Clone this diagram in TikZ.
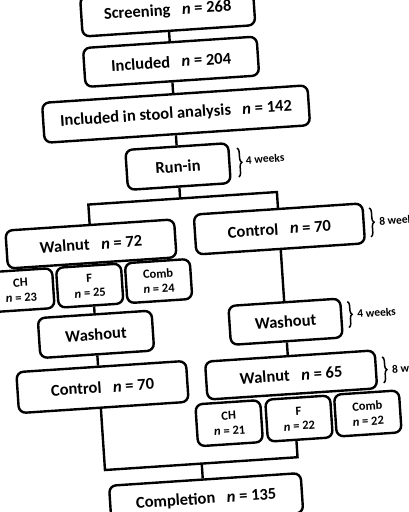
\documentclass[tikz,border=0pt]{standalone}
\usepackage{fontspec}
\setmainfont{Carlito}
\usetikzlibrary{decorations.pathreplacing}
\begin{document}
\begin{tikzpicture}[x=1pt,y=-1pt,
 bx/.style={draw, line width=2.4pt, rounded corners=7pt, inner sep=0pt, align=center, font=\fontsize{16.5}{19}\selectfont\bfseries},
 sb/.style={bx, font=\fontsize{12.5}{15}\selectfont\bfseries, minimum width=65pt, minimum height=40pt},
 ln/.style={line width=2.4pt},
 brc/.style={decorate, decoration={brace, amplitude=4pt}, line width=1.5pt},
 wk/.style={anchor=west, font=\fontsize{11.5}{13}\selectfont\bfseries, inner sep=0pt}]
\useasboundingbox (0,0) rectangle (408,512);
\clip (0,0) rectangle (408,512);
\fill[white] (0,0) rectangle (408,512);
\newcommand{\nn}[1]{\hspace{0.7em}\textit{n} = #1}
\begin{scope}[rotate around={3.8:(204,256)}, transform shape]
% main column
\node[bx, minimum width=173pt, minimum height=40pt] (scr) at (184,9) {Screening\nn{268}};
\node[bx, minimum width=174pt, minimum height=39pt] (inc) at (184,60) {Included\nn{204}};
\node[bx, minimum width=266pt, minimum height=40pt] (sto) at (185.5,112.5) {Included in stool analysis\nn{142}};
\node[bx, minimum width=103pt, minimum height=40pt] (run) at (184,165) {Run-in};
% left arm
\node[bx, minimum width=169pt, minimum height=38pt] (walL) at (92,236.5) {Walnut\nn{72}};
\node[sb] (chL) at (19,278) {CH\\\textit{n} = 23};
\node[sb] (fL) at (88,278) {F\\\textit{n} = 25};
\node[sb] (combL) at (157,278) {Comb\\\textit{n} = 24};
\node[bx, minimum width=114pt, minimum height=40pt] (washL) at (91,327) {Washout};
\node[bx, minimum width=170pt, minimum height=41pt] (ctlL) at (94,380) {Control\nn{70}};
% right arm
\node[bx, minimum width=169pt, minimum height=40pt] (ctlR) at (281,234) {Control\nn{70}};
\node[bx, minimum width=112pt, minimum height=39pt] (washR) at (281,327) {Washout};
\node[bx, minimum width=170pt, minimum height=38pt] (walR) at (283,380.5) {Walnut\nn{65}};
\node[sb, minimum height=42pt] (chR) at (218,424.5) {CH\\\textit{n} = 21};
\node[sb, minimum height=42pt] (fR) at (288,424.5) {F\\\textit{n} = 22};
\node[sb, minimum height=42pt] (combR) at (357,424) {Comb\\\textit{n} = 22};
% completion
\node[bx, minimum width=192pt, minimum height=40pt] (comp) at (190,499) {Completion\nn{135}};
% connector points
\coordinate (brL) at (92,197);
\coordinate (brR) at (281,197);
\coordinate (mL) at (91,463);
\coordinate (mR) at (284,463);
\coordinate (mM) at (188,463);
% connectors
\draw[ln] (scr.south) -- (scr.south |- inc.north);
\draw[ln] (inc.south) -- (inc.south |- sto.north);
\draw[ln] (sto.south -| run.south) -- (run.north);
\draw[ln] (run.south) -- (run.south |- brL);
\draw[ln] (walL.north -| brL) -- (brL) -- (brR) -- (ctlR.north -| brR);
\draw[ln] (washL.north) -- (washL.north |- fL.south);
\draw[ln] (washL.south) -- (washL.south |- ctlL.north);
\draw[ln] (ctlR.south) -- (washR.north);
\draw[ln] (washR.south) -- (washR.south |- walR.north);
\draw[ln] (ctlL.south -| mL) -- (mL) -- (mR) -- (fR.south -| mR);
\draw[ln] (mM) -- (comp.north -| mM);
% braces
\coordinate (b1a) at (244,150.5); \coordinate (b1b) at (244,179.5);
\draw[brc] (b1a) -- (b1b);
\node[wk] (w1) at (252,163) {4 weeks};
\coordinate (b2a) at (372,219); \coordinate (b2b) at (372,248);
\draw[brc] (b2a) -- (b2b);
\node[wk] (w2) at (381,233) {8 weeks};
\coordinate (b3a) at (344,311); \coordinate (b3b) at (344,337);
\draw[brc] (b3a) -- (b3b);
\node[wk] (w3) at (353,324) {4 weeks};
\coordinate (b4a) at (375,368.5); \coordinate (b4b) at (375,394.5);
\draw[brc] (b4a) -- (b4b);
\node[wk] (w4) at (384,381.5) {8 weeks};
\end{scope}
\end{tikzpicture}
\end{document}
